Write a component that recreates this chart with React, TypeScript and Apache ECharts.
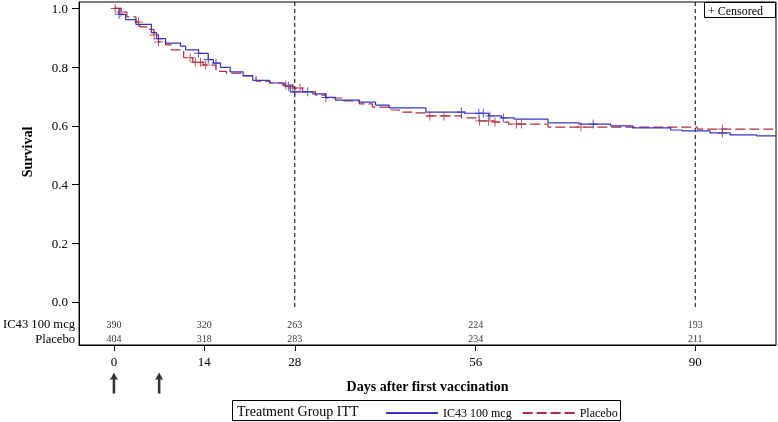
import React, { useEffect, useRef } from "react";
import * as echarts from "echarts";

// Kaplan-Meier steps: [day, survival]
const ic43Steps: number[][] = [
  [0, 1.0], [0.8, 0.98], [1.8, 0.962], [3.4, 0.946], [5.8, 0.918], [6.6, 0.897],
  [8.0, 0.882], [10.3, 0.872], [11.1, 0.859], [13.1, 0.847], [14.6, 0.826],
  [15.4, 0.814], [16.5, 0.799], [18.0, 0.784], [20.0, 0.771], [21.5, 0.755],
  [24.1, 0.746], [26.5, 0.735], [27.3, 0.716], [30.8, 0.709], [32.8, 0.697],
  [34.3, 0.688], [38.0, 0.681], [40.5, 0.671], [42.6, 0.661], [48.3, 0.647],
  [54.3, 0.643], [58.0, 0.634], [60.0, 0.627], [62.0, 0.623], [67.2, 0.61],
  [72.0, 0.606], [76.9, 0.6], [80.3, 0.593], [86.2, 0.586], [88.0, 0.583],
  [92.3, 0.576], [95.4, 0.569], [99.5, 0.566], [102.5, 0.566],
];
const placeboSteps: number[][] = [
  [0, 1.0], [1.1, 0.988], [2.0, 0.971], [3.4, 0.954], [4.0, 0.937], [5.1, 0.929],
  [6.2, 0.91], [6.9, 0.886], [8.0, 0.876], [8.9, 0.859], [10.8, 0.832],
  [12.2, 0.817], [13.8, 0.807], [15.8, 0.786], [17.4, 0.78], [20.0, 0.77],
  [22.0, 0.752], [24.2, 0.746], [26.2, 0.739], [27.7, 0.729], [29.2, 0.716],
  [31.2, 0.705], [32.8, 0.695], [35.4, 0.685], [38.0, 0.675], [40.0, 0.664],
  [42.6, 0.654], [44.2, 0.647], [46.2, 0.644], [48.2, 0.634], [53.8, 0.627],
  [56.5, 0.617], [58.9, 0.613], [61.1, 0.606], [67.2, 0.596], [90.3, 0.589],
  [102.5, 0.589],
];
// censoring days
const ic43Censored = [0.8, 6.9, 13.1, 14.6, 15.8, 27.0, 28.0, 30.0, 32.8, 53.8, 56.5, 57.2, 58.2, 60.3, 74.2, 94.2];
const placeboCensored = [0.2, 1.1, 3.8, 6.2, 6.9, 11.8, 12.6, 13.4, 14.2, 26.6, 27.7, 28.8, 48.9, 51.1, 56.6, 58.0, 59.0, 62.3, 63.1, 72.3, 94.2];

// number at risk table
const riskDays = [0, 14, 28, 56, 90];
const ic43AtRisk = [390, 320, 263, 224, 193];
const placeboAtRisk = [404, 318, 283, 234, 211];

const xTicks = [0, 14, 28, 56, 90];
const yTicks = [0, 0.2, 0.4, 0.6, 0.8, 1.0];
const refDays = [28, 90];
const vaccinationDays = [0, 7];

const X_MIN = -5.4;
const X_MAX = 102.5;
const Y_MIN = -0.1465;
const Y_MAX = 1.022;
const ROW_IC43 = -0.075;
const ROW_PLACEBO = -0.126;
const REF_BOTTOM = -0.027;
const ARROW_Y = -0.276;

const FONT = "'Liberation Serif', 'Times New Roman', 'DejaVu Serif', serif";
const BLUE = "#3434c8";
const RED = "#b8283c";

const survAt = (steps: number[][], d: number) => {
  let v = steps[0][1];
  for (const s of steps) {
    if (s[0] <= d) v = s[1];
    else break;
  }
  return v;
};

const PLUS = "path://M4,0 H5 V4 H9 V5 H5 V9 H4 V5 H0 V4 H4 Z";
const ARROW = "path://M5,0 L10,10 L6.6,9 L6.6,28 L3.4,28 L3.4,9 L0,10 Z";

export default function App() {
  const ref = useRef<HTMLDivElement>(null);
  useEffect(() => {
    if (!ref.current) return;
    const chart = echarts.init(ref.current, null, { renderer: "svg" });
    const refSeries = refDays.map((d, i) => ({
      name: "ref" + i,
      type: "line",
      data: [[d, Y_MAX], [d, REF_BOTTOM]],
      symbol: "none",
      silent: true,
      lineStyle: { color: "#000", width: 1, type: [4, 3] },
      z: 1,
    }));
    const option: any = {
      animation: false,
      grid: {
        left: 75, right: 2, top: 2, bottom: 77,
        show: true, borderColor: "#000", borderWidth: 1, backgroundColor: "#fff",
      },
      xAxis: {
        type: "value",
        min: X_MIN, max: X_MAX,
        name: "Days after first vaccination",
        nameLocation: "middle",
        nameGap: 34,
        nameTextStyle: { fontFamily: FONT, fontSize: 14, fontWeight: "bold", color: "#000" },
        axisLine: { show: true, onZero: false, lineStyle: { color: "#000", width: 1 } },
        axisTick: { show: true, customValues: xTicks, length: 6, lineStyle: { color: "#000" } },
        axisLabel: { customValues: xTicks, margin: 10, fontFamily: FONT, fontSize: 13, color: "#000" },
        splitLine: { show: false },
      },
      yAxis: {
        type: "value",
        min: Y_MIN, max: Y_MAX,
        axisLine: { show: true, onZero: false, lineStyle: { color: "#000", width: 1 } },
        axisTick: { show: true, customValues: yTicks, length: 7, lineStyle: { color: "#000" } },
        axisLabel: {
          customValues: [ROW_PLACEBO, ROW_IC43, ...yTicks],
          margin: 4,
          fontFamily: FONT, fontSize: 13, color: "#000",
          formatter: (v: number) =>
            v < -0.1 ? "{r|Placebo}" : v < -0.01 ? "{r|IC43 100 mcg}" : `{n|${v.toFixed(1)}}`,
          rich: {
            n: { fontFamily: FONT, fontSize: 13, color: "#000", padding: [0, 7, 0, 0] },
            r: { fontFamily: FONT, fontSize: 12.6, color: "#000" },
          },
        },
        splitLine: { show: false },
      },
      legend: {
        data: ["IC43 100 mcg", "Placebo"],
        left: 380, top: 402,
        itemWidth: 52, itemHeight: 14, itemGap: 10,
        itemStyle: { opacity: 0 },
        textStyle: { fontFamily: FONT, fontSize: 12, color: "#000" },
      },
      graphic: [
        { type: "rect", shape: { x: 232.5, y: 400.5, width: 388, height: 20 }, style: { fill: "none", stroke: "#000", lineWidth: 1 } },
        { type: "text", x: 237, y: 411, style: { text: "Treatment Group ITT", font: `14px ${FONT}`, fill: "#000", verticalAlign: "middle" } },
        { type: "rect", shape: { x: 704.5, y: 2.5, width: 71, height: 15 }, style: { fill: "#fff", stroke: "#000", lineWidth: 1 }, z: 100 },
        { type: "text", x: 708, y: 10.5, style: { text: "+ Censored", font: `12px ${FONT}`, fill: "#000", verticalAlign: "middle" }, z: 101 },
        { type: "text", x: 27, y: 152, rotation: Math.PI / 2, style: { text: "Survival", font: `bold 14px ${FONT}`, fill: "#000", align: "center", verticalAlign: "middle" } },
      ],
      series: [
        ...refSeries,
        {
          name: "IC43 100 mcg", type: "line", step: "end", data: ic43Steps, symbol: "none",
          lineStyle: { color: BLUE, width: 1.2 }, itemStyle: { color: BLUE }, z: 3,
        },
        {
          name: "Placebo", type: "line", step: "end", data: placeboSteps, symbol: "none",
          lineStyle: { color: RED, width: 1.2, type: [10, 4] }, itemStyle: { color: RED }, z: 2,
        },
        {
          name: "IC43 censored", type: "scatter", symbol: PLUS, symbolSize: 9,
          data: ic43Censored.map((d) => [d, survAt(ic43Steps, d)]),
          itemStyle: { color: BLUE }, z: 4,
        },
        {
          name: "Placebo censored", type: "scatter", symbol: PLUS, symbolSize: 9,
          data: placeboCensored.map((d) => [d, survAt(placeboSteps, d)]),
          itemStyle: { color: RED }, z: 4,
        },
        {
          name: "IC43 at risk", type: "scatter", symbolSize: 1, silent: true,
          data: riskDays.map((d, i) => [d, ROW_IC43, ic43AtRisk[i]]),
          itemStyle: { color: "rgba(0,0,0,0)" },
          label: { show: true, position: "inside", formatter: (p: any) => String(p.value[2]), fontFamily: FONT, fontSize: 10, color: "#000" },
        },
        {
          name: "Placebo at risk", type: "scatter", symbolSize: 1, silent: true,
          data: riskDays.map((d, i) => [d, ROW_PLACEBO, placeboAtRisk[i]]),
          itemStyle: { color: "rgba(0,0,0,0)" },
          label: { show: true, position: "inside", formatter: (p: any) => String(p.value[2]), fontFamily: FONT, fontSize: 10, color: "#000" },
        },
        {
          name: "Vaccinations", type: "scatter", clip: false, silent: true,
          symbol: ARROW, symbolSize: [8, 21],
          data: vaccinationDays.map((d) => [d, ARROW_Y]),
          itemStyle: { color: "#000" },
        },
      ],
    };
    chart.setOption(option);
    return () => chart.dispose();
  }, []);
  return <div ref={ref} style={{ position: "fixed", left: 0, top: 0, width: 778, height: 422 }} />;
}
